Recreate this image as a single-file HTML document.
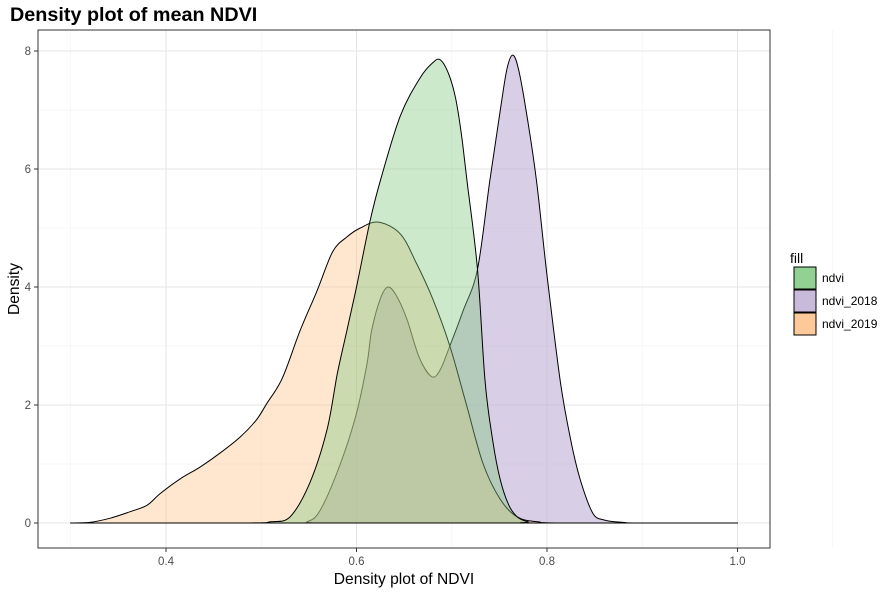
<!DOCTYPE html>
<html><head><meta charset="utf-8"><style>
body{margin:0;background:#fff;font-family:"Liberation Sans",Arial,sans-serif}
svg{display:block}
</style></head><body>
<svg id="chart" width="892" height="594">
<text x="10" y="21" font-size="19.8" font-weight="bold" fill="#000">Density plot of mean NDVI</text>
<g id="grid"></g><g id="areas"></g><g id="axes"></g>
<text x="404" y="584" font-size="15.6" text-anchor="middle" fill="#000">Density plot of NDVI</text>
<text transform="translate(19,289) rotate(-90)" font-size="15.6" text-anchor="middle" fill="#000">Density</text>
<g id="legend">
<text x="790" y="263" font-size="14">fill</text>
</g>
</svg>
<script>
const series = ["ndvi","ndvi_2018","ndvi_2019"];
const colors = ["#7fc97f","#beaed4","#fdc086"];
const alphas = [0.4,0.6,0.4];
const drawOrder = [1,2,0];
const xTicks = [0.4,0.6,0.8,1.0];
const xTickLabels = ["0.4","0.6","0.8","1.0"];
const yTicks = [0,2,4,6,8];
const yTickLabels = ["0","2","4","6","8"];
const ndviX = [0.3,0.48,0.51,0.53,0.551,0.569,0.58,0.59,0.60,0.614,0.625,0.646,0.667,0.68,0.688,0.697,0.704,0.71,0.716,0.727,0.735,0.743,0.751,0.76,0.769,0.78,0.79,1.0];
const ndviY = [0,0,0.02,0.1,0.68,1.58,2.54,3.27,4.0,5.1,5.8,6.9,7.55,7.8,7.85,7.6,7.2,6.6,5.8,4.3,2.4,1.4,0.73,0.3,0.1,0.02,0,0];
const n18X = [0.3,0.53,0.548,0.562,0.583,0.60,0.611,0.616,0.625,0.633,0.642,0.653,0.666,0.679,0.688,0.698,0.712,0.727,0.74,0.751,0.758,0.764,0.77,0.778,0.789,0.80,0.814,0.825,0.835,0.848,0.86,0.88,0.90,1.0];
const n18Y = [0,0,0.02,0.22,1.0,1.86,2.7,3.27,3.8,4.0,3.85,3.45,2.8,2.48,2.6,3.0,3.6,4.3,5.8,7.0,7.7,7.93,7.7,7.0,5.8,4.2,2.4,1.4,0.73,0.17,0.05,0.01,0,0];
const n19X = [0.30,0.32,0.341,0.362,0.38,0.394,0.415,0.436,0.458,0.478,0.495,0.506,0.522,0.541,0.559,0.575,0.59,0.604,0.623,0.646,0.663,0.68,0.698,0.716,0.733,0.751,0.769,0.79,0.82,1.0];
const n19Y = [0,0.01,0.08,0.19,0.3,0.5,0.75,0.95,1.2,1.46,1.75,2.03,2.45,3.27,3.95,4.6,4.85,5.0,5.1,4.9,4.4,3.8,3.0,1.97,1.0,0.4,0.1,0.02,0,0];
const allX = [ndviX,n18X,n19X], allY = [ndviY,n18Y,n19Y];

const L=38,R=770,T=30,B=548;
const sx = v => 166 + (v-0.4)*952.5;
const sy = v => 523 - v*59;
const NS="http://www.w3.org/2000/svg";
function mk(tag,attrs,parent){const e=document.createElementNS(NS,tag);for(const k in attrs)e.setAttribute(k,attrs[k]);parent.appendChild(e);return e;}
const grid=document.getElementById('grid'), areas=document.getElementById('areas'), axes=document.getElementById('axes'), legend=document.getElementById('legend');
mk('rect',{x:L,y:T,width:R-L,height:B-T,fill:'#fff'},grid);
for(let i=0;i<xTicks.length+1;i++){const v=0.3+0.2*i; const l=mk('line',{x1:sx(v),x2:sx(v),y1:T,y2:B,stroke:'#f3f3f3','stroke-width':0.8},grid);

}
for(let i=0;i<yTicks.length-1;i++){const v=yTicks[i]+1; const l=mk('line',{x1:L,x2:R,y1:sy(v),y2:sy(v),stroke:'#f3f3f3','stroke-width':0.8},grid);

}
xTicks.forEach((v,i)=>{const l=mk('line',{x1:sx(v),x2:sx(v),y1:T,y2:B,stroke:'#e6e6e6','stroke-width':1},grid);


mk('line',{x1:sx(v),x2:sx(v),y1:B,y2:B+4,stroke:'#333'},axes);
const t=mk('text',{x:sx(v),y:B+17,'font-size':11.5,'text-anchor':'middle',fill:'#4d4d4d'},axes);t.textContent=xTickLabels[i];

});
yTicks.forEach((v,i)=>{const l=mk('line',{x1:L,x2:R,y1:sy(v),y2:sy(v),stroke:'#e6e6e6','stroke-width':1},grid);


mk('line',{x1:L-4,x2:L,y1:sy(v),y2:sy(v),stroke:'#333'},axes);
const t=mk('text',{x:L-7,y:sy(v)+4,'font-size':11.5,'text-anchor':'end',fill:'#4d4d4d'},axes);t.textContent=yTickLabels[i];

});
mk('rect',{x:L,y:T,width:R-L,height:B-T,fill:'none',stroke:'#333','stroke-width':1},axes);

function smoothPath(pts){
  let d='M'+pts[0][0].toFixed(1)+','+pts[0][1].toFixed(1);
  for(let i=0;i<pts.length-1;i++){
    const p0=pts[Math.max(0,i-1)],p1=pts[i],p2=pts[i+1],p3=pts[Math.min(pts.length-1,i+2)];
    let c1y=p1[1]+(p2[1]-p0[1])/6, c2y=p2[1]-(p3[1]-p1[1])/6;
    const lo=sy(0); c1y=Math.min(c1y,lo); c2y=Math.min(c2y,lo);
    d+=' C'+(p1[0]+(p2[0]-p0[0])/6).toFixed(1)+','+c1y.toFixed(1)+' '+(p2[0]-(p3[0]-p1[0])/6).toFixed(1)+','+c2y.toFixed(1)+' '+p2[0].toFixed(1)+','+p2[1].toFixed(1);
  }
  return d;
}
drawOrder.forEach(k=>{const s=series[k];const xs=allX[k],ys=allY[k];
const pts=xs.map((x,i)=>[sx(x),sy(ys[i])]);
const d=smoothPath(pts)+'Z';
const p=mk('path',{d:d,fill:colors[k],'fill-opacity':alphas[k],stroke:'#000','stroke-width':1,'stroke-linejoin':'round'},areas);

});
series.forEach((s,k)=>{
const y0=267+k*23;
const r=mk('rect',{x:794,y:y0,width:22,height:22,fill:colors[k],'fill-opacity':0.85,stroke:'#000','stroke-width':1},legend);


const t=mk('text',{x:822,y:y0+15,'font-size':12,fill:'#000'},legend);t.textContent=s;

});
</script>
</body></html>
